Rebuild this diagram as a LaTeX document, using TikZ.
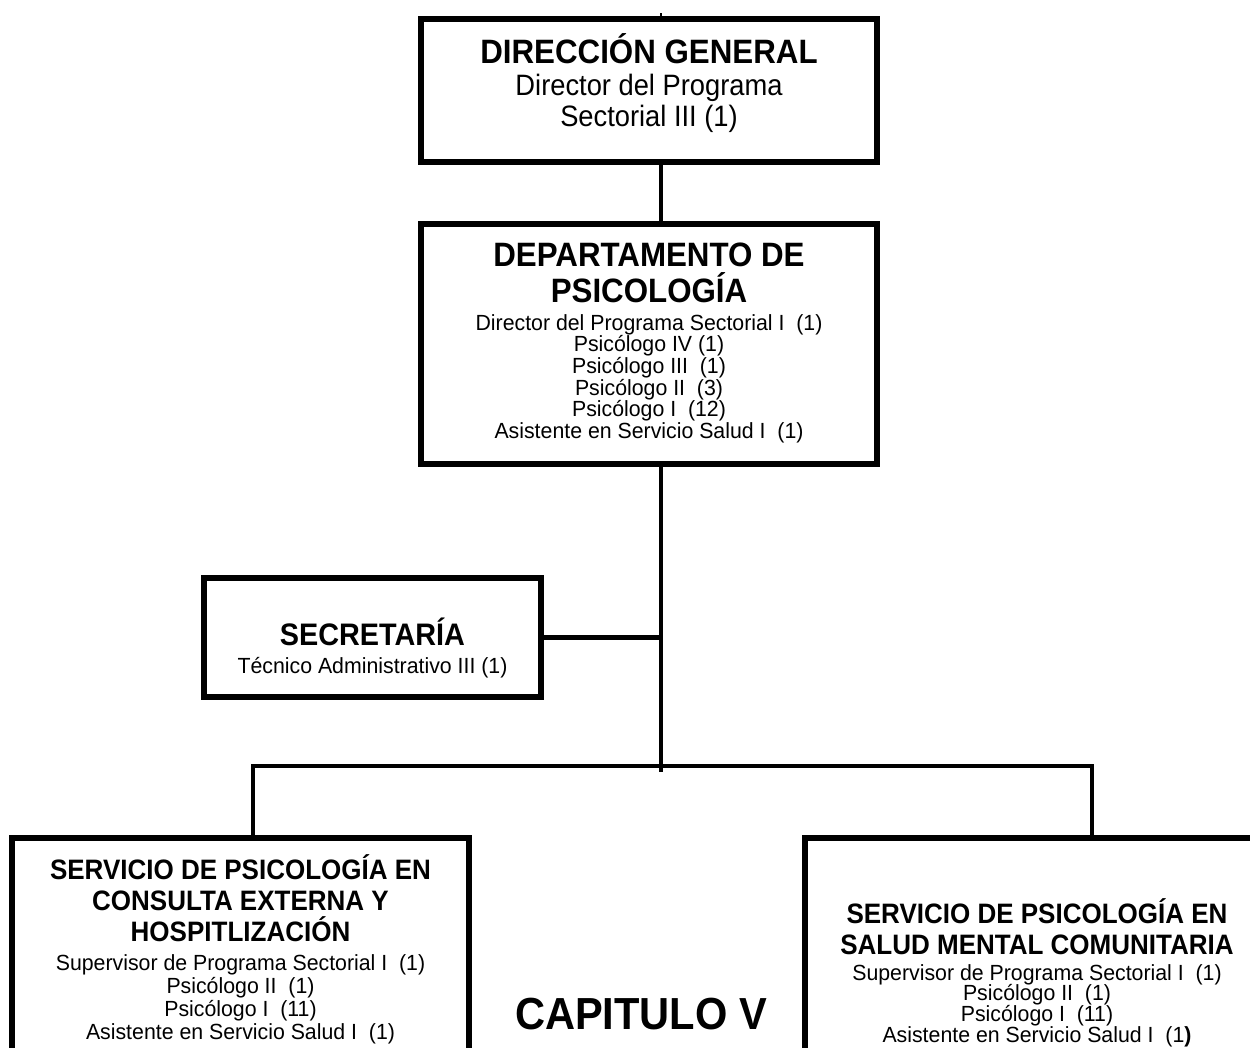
\documentclass[tikz,border=0pt]{standalone}
\usepackage{fontspec}
\setmainfont{Liberation Sans}
\newcommand{\tall}[1]{\scalebox{1}[1.08]{#1}}
\newcommand{\tsm}[1]{\scalebox{1}[1.03]{#1}}
\begin{document}
\begin{tikzpicture}[x=1pt,y=-1pt,
  box/.style={draw, line width=5.8pt, inner sep=0pt, rectangle},
  conn/.style={line width=4.6pt},
  txt/.style={anchor=base, inner sep=0pt},
  bigt/.style={txt, font=\fontsize{31.3}{31.3}\selectfont\bfseries},
  secttl/.style={txt, font=\fontsize{28.8}{28.8}\selectfont\bfseries},
  subt/.style={txt, font=\fontsize{27.3}{27.3}\selectfont},
  svct/.style={txt, font=\fontsize{26}{26}\selectfont\bfseries},
  sml/.style={txt, font=\fontsize{21.3}{21.3}\selectfont},
  chap/.style={txt, font=\fontsize{41.6}{41.6}\selectfont\bfseries}
]
\clip (0,0) rectangle (1250,1047);
\fill[white] (0,0) rectangle (1250,1047);

% boxes
\node[box, minimum width=456pt, minimum height=143pt] (dg) at (649,90.5) {};
\node[box, minimum width=456pt, minimum height=240pt] (dp) at (649,344) {};
\node[box, minimum width=337pt, minimum height=119pt] (sec) at (372.5,637.5) {};
\node[box, minimum width=457pt, minimum height=242pt] (lb) at (240.5,959) {};
\node[box, minimum width=464pt, minimum height=242pt] (rb) at (1037,959) {};

% coordinates
\coordinate (ax) at (661,13);
\coordinate (jn) at (661,772);
\coordinate (hl) at (253,766);
\coordinate (hr) at (1092,766);

% connectors
\draw[line width=1.5pt] (ax) -- (ax |- dg.north);
\draw[conn] (ax |- dg.south) -- (ax |- dp.north);
\draw[conn] (ax |- dp.south) -- (jn);
\draw[conn] (sec.east) -- (sec.east -| ax);
\draw[conn, line join=miter] (hl |- lb.north) -- (hl) -- (hr) -- (hr |- rb.north);

% DG text
\node[bigt] (dg1) at (649,63) {\tall{DIRECCIÓN GENERAL}};
\node[subt] (dg2) at (649,95) {\tall{Director del Programa}};
\node[subt] (dg3) at (649,126) {\tall{Sectorial III (1)}};

% DP text
\node[bigt] (dp1) at (649,266) {\tall{DEPARTAMENTO DE}};
\node[bigt] (dp2) at (649,302) {\tall{PSICOLOGÍA}};
\node[sml] (dp3) at (649,330) {\tsm{Director del Programa Sectorial I\ \ (1)}};
\node[sml] (dp4) at (649,351.7) {\tsm{Psicólogo IV (1)}};
\node[sml] (dp5) at (649,373.4) {\tsm{Psicólogo III\ \ (1)}};
\node[sml] (dp6) at (649,395) {\tsm{Psicólogo II\ \ (3)}};
\node[sml] (dp7) at (649,416.8) {\tsm{Psicólogo I\ \ (12)}};
\node[sml] (dp8) at (649,438.5) {\tsm{Asistente en Servicio Salud I\ \ (1)}};

% Secretaria text
\node[secttl] (s1) at (372.5,645) {\tall{SECRETARÍA}};
\node[sml] (s2) at (372.5,673) {\tsm{Técnico Administrativo III (1)}};

% left service
\node[svct] (l1) at (240.5,879) {\tall{SERVICIO DE PSICOLOGÍA EN}};
\node[svct] (l2) at (240.5,910) {\tall{CONSULTA EXTERNA Y}};
\node[svct] (l3) at (240.5,941) {\tall{HOSPITLIZACIÓN}};
\node[sml] (l4) at (240.5,970) {\tsm{Supervisor de Programa Sectorial I\ \ (1)}};
\node[sml] (l5) at (240.5,993) {\tsm{Psicólogo II\ \ (1)}};
\node[sml] (l6) at (240.5,1016) {\tsm{Psicólogo I\ \ (11)}};
\node[sml] (l7) at (240.5,1039) {\tsm{Asistente en Servicio Salud I\ \ (1)}};

% right service
\node[svct] (r1) at (1037,923) {\tall{SERVICIO DE PSICOLOGÍA EN}};
\node[svct] (r2) at (1037,954) {\tall{SALUD MENTAL COMUNITARIA}};
\node[sml] (r3) at (1037,980) {\tsm{Supervisor de Programa Sectorial I\ \ (1)}};
\node[sml] (r4) at (1037,1000.8) {\tsm{Psicólogo II\ \ (1)}};
\node[sml] (r5) at (1037,1021.6) {\tsm{Psicólogo I\ \ (11)}};
\node[sml] (r6) at (1037,1042.4) {\tsm{Asistente en Servicio Salud I\ \ (1\textbf{)}}};

% chapter
\node[chap] (cap) at (641,1029) {\tall{CAPITULO V}};
\end{tikzpicture}
\end{document}
